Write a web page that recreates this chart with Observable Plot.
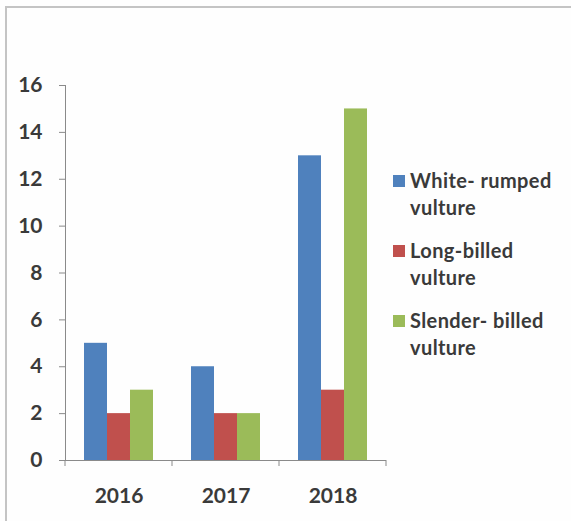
<!DOCTYPE html>
<html>
<head>
<meta charset="utf-8">
<script src="https://cdn.jsdelivr.net/npm/d3@7"></script>
<script src="https://cdn.jsdelivr.net/npm/@observablehq/plot@0.6"></script>
<style>
  html, body { margin: 0; padding: 0; background: #ffffff; }
  #wrap { position: relative; width: 571px; height: 521px; overflow: hidden; background: #fefefe; }
  #frame { position: absolute; left: 5px; top: 6px; width: 600px; height: 600px;
           border-left: 2px solid #c4c4c4; border-top: 2px solid #c4c4c4; }
  #chart svg text { fill: #3a3a3a; }
  #legend { position: absolute; left: 393px; top: 167px; font-family: Lato, "Open Sans", sans-serif;
            font-size: 20px; letter-spacing: 0.4px; font-weight: bold; color: #3a3a3a; line-height: 27px; }
  .item { position: relative; padding-left: 17px; margin-bottom: 16px; }
  .sw { position: absolute; left: 0; top: 8px; width: 12px; height: 12px; }
</style>
</head>
<body>
<div id="wrap">
  <div id="frame"></div>
  <div id="chart"></div>
  <div id="legend"></div>
</div>
<script>
const years = ["2016", "2017", "2018"];
const series = ["White-rumped vulture", "Long-billed vulture", "Slender-billed vulture"];
const legendLines = [["White- rumped", "vulture"], ["Long-billed", "vulture"], ["Slender- billed", "vulture"]];
const whiteRumped = [5, 4, 13];
const longBilled = [2, 2, 3];
const slenderBilled = [3, 2, 15];
const colors = ["#4F81BD", "#C0504D", "#9BBB59"];
const yTicks = [0, 2, 4, 6, 8, 10, 12, 14, 16];

const valuesBySeries = [whiteRumped, longBilled, slenderBilled];
const data = years.flatMap((yr, i) => series.map((s, j) => ({year: yr, series: s, value: valuesBySeries[j][i]})));

const axisGray = "#8a8a8a";

const chart = Plot.plot({
  width: 571,
  height: 521,
  marginLeft: 65,
  marginRight: 185,
  marginTop: 85,
  marginBottom: 61,
  style: {fontFamily: "Lato, 'Open Sans', sans-serif", fontSize: "21px", fontWeight: "bold", color: axisGray, background: "transparent"},
  fx: {domain: years, padding: 0, axis: "bottom", tickSize: 0, tickPadding: 28, label: null},
  x: {domain: series, axis: null, paddingInner: 0, paddingOuter: 0.75},
  y: {domain: [0, 16], ticks: yTicks, tickSize: 6, tickPadding: 17, line: true, label: null},
  color: {domain: series, range: colors},
  marks: [
    Plot.barY(data, {fx: "year", x: "series", y: "value", fill: "series"}),
    Plot.ruleY([0], {stroke: axisGray})
  ]
});

document.getElementById("chart").appendChild(chart);

// category boundary ticks on the x axis, from the library's scales
const fx = chart.scale("fx");
const ys = chart.scale("y");
const y0 = ys.apply(0);
const edges = years.map(d => fx.apply(d)).concat([fx.apply(years[years.length - 1]) + fx.bandwidth]);
const svg = d3.select(chart);
svg.append("g").selectAll("line").data(edges).join("line")
  .attr("x1", d => d).attr("x2", d => d)
  .attr("y1", y0).attr("y2", y0 + 6)
  .attr("stroke", axisGray);

// legend
const legend = d3.select("#legend");
series.forEach((s, i) => {
  const item = legend.append("div").attr("class", "item");
  item.append("div").attr("class", "sw").style("background", colors[i]);
  legendLines[i].forEach(t => item.append("div").text(t));
});
</script>
</body>
</html>
